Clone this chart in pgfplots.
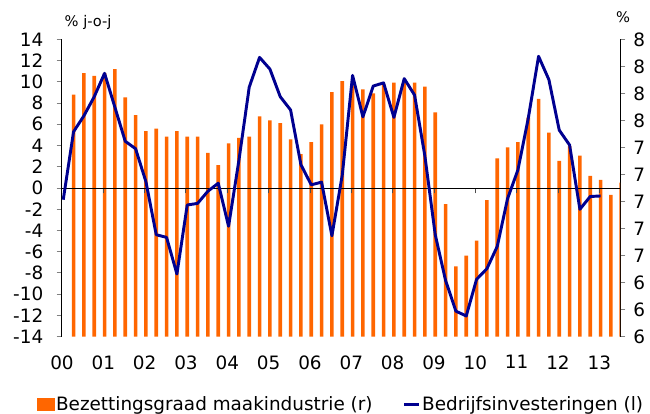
\documentclass[border=0pt]{standalone}
\usepackage{pgfplots}
\pgfplotsset{compat=1.18}
\usepackage{fontspec}
\setmainfont{DejaVu Sans}
\definecolor{barorange}{HTML}{FF6600}
\definecolor{linenavy}{HTML}{000090}
\definecolor{tickgray}{HTML}{808080}

\pgfplotstableread{
k v
1 7.79
2 7.95
3 7.93
4 7.95
5 7.98
6 7.77
7 7.64
8 7.52
9 7.54
10 7.48
11 7.52
12 7.48
13 7.48
14 7.36
15 7.27
16 7.43
17 7.47
18 7.48
19 7.63
20 7.60
21 7.58
22 7.46
23 7.35
24 7.44
25 7.57
26 7.81
27 7.89
28 7.86
29 7.83
30 7.80
31 7.87
32 7.88
33 7.88
34 7.88
35 7.85
36 7.66
37 6.98
38 6.52
39 6.60
40 6.71
41 7.01
42 7.32
43 7.40
44 7.44
45 7.62
46 7.76
47 7.51
48 7.30
49 7.41
50 7.34
51 7.19
52 7.16
53 7.05
54 7.14
}\bardata

\pgfplotstableread{
k v
0 -1.1
1 5.3
2 6.8
3 8.6
4 10.8
5 7.6
6 4.4
7 3.7
8 0.6
9 -4.4
10 -4.65
11 -8.1
12 -1.6
13 -1.45
14 -0.3
15 0.45
16 -3.6
17 2.6
18 9.5
19 12.3
20 11.2
21 8.6
22 7.35
23 2.2
24 0.3
25 0.55
26 -4.5
27 1.2
28 10.6
29 6.7
30 9.6
31 9.9
32 6.65
33 10.3
34 8.75
35 3.0
36 -4.4
37 -8.7
38 -11.6
39 -12.05
40 -8.6
41 -7.6
42 -5.5
43 -1.0
44 1.7
45 6.55
46 12.4
47 10.2
48 5.45
49 4.05
50 -2.0
51 -0.8
52 -0.75
}\linedata

\begin{document}
\begin{tikzpicture}[font=\fontsize{13.8}{16}\selectfont]
\path[use as bounding box] (-46.5pt,-58pt) rectangle (441pt,252.5pt);
\begin{axis}[
  at={(0,0)}, anchor=south west, scale only axis,
  width=418.5pt, height=223pt,
  xmin=-0.12, xmax=53.88, ymin=6, ymax=8.2,
  axis y line*=right, axis x line*=bottom,
  x axis line style={draw=none},
  y axis line style={black, line width=0.75pt},
  xtick={-0.12,3.88,7.88,11.88,15.88,19.88,23.88,27.88,31.88,35.88,39.88,43.88,47.88,51.88},
  xticklabels={00,01,02,03,04,05,06,07,08,09,10,11,12,13},
  xtick style={draw=none},
  xticklabel style={yshift=-6.5pt},
  ytick={6,6.2,6.4,6.6,6.8,7,7.2,7.4,7.6,7.8,8,8.2},
  yticklabels={6,6,6,7,7,7,7,7,8,8,8,8},
  ytick style={tickgray, line width=0.75pt},
  yticklabel style={xshift=2.5pt},
  tick align=outside, major tick length=4pt,
  ybar, bar width=2.7pt, bar shift=0pt,
]
\addplot[fill=barorange, draw=none] table[x=k, y=v] {\bardata};
\end{axis}
\begin{axis}[
  at={(0,0)}, anchor=south west, scale only axis,
  width=418.5pt, height=223pt,
  xmin=-0.12, xmax=53.88, ymin=-14, ymax=14,
  axis y line*=left, axis x line*=middle,
  axis line style={-},
  x axis line style={black, line width=0.75pt},
  y axis line style={black, line width=0.75pt},
  xtick={-0.12,3.88,7.88,11.88,15.88,19.88,23.88,27.88,31.88,35.88,39.88,43.88,47.88,51.88},
  xticklabels={},
  xtick style={tickgray!60!black, line width=0.75pt},
  ytick={-14,-12,...,14},
  yticklabels={-14,-12,-10,-8,-6,-4,-2,0,2,4,6,8,10,12,14},
  ytick style={tickgray, line width=0.75pt},
  yticklabel style={xshift=-6.5pt},
  tick align=outside, major tick length=4pt,
  legend columns=2,
  legend style={draw=none, fill=none, at={(0.5,-51pt)}, anchor=center,
    /tikz/every even column/.append style={column sep=21pt},
    nodes={inner sep=1.5pt}},
  legend cell align=left,
]
\addlegendimage{legend image code/.code={\fill[barorange] (0pt,-4.5pt) rectangle (12.5pt,4.5pt);}}
\addlegendentry{Bezettingsgraad maakindustrie (r)}
\addplot[linenavy, line width=2.2pt, line join=round, legend image code/.code={\draw[linenavy, line width=2.2pt] (0pt,0pt) -- (11pt,0pt);}] table[x=k, y=v] {\linedata};
\addlegendentry{Bedrijfsinvesteringen (l)}
\end{axis}
\node[anchor=west, font=\fontsize{11}{12}\selectfont] at (-1.5pt,236pt) {\% j-o-j};
\node[anchor=west, font=\fontsize{11}{12}\selectfont] at (412pt,240pt) {\%};
\end{tikzpicture}
\end{document}
